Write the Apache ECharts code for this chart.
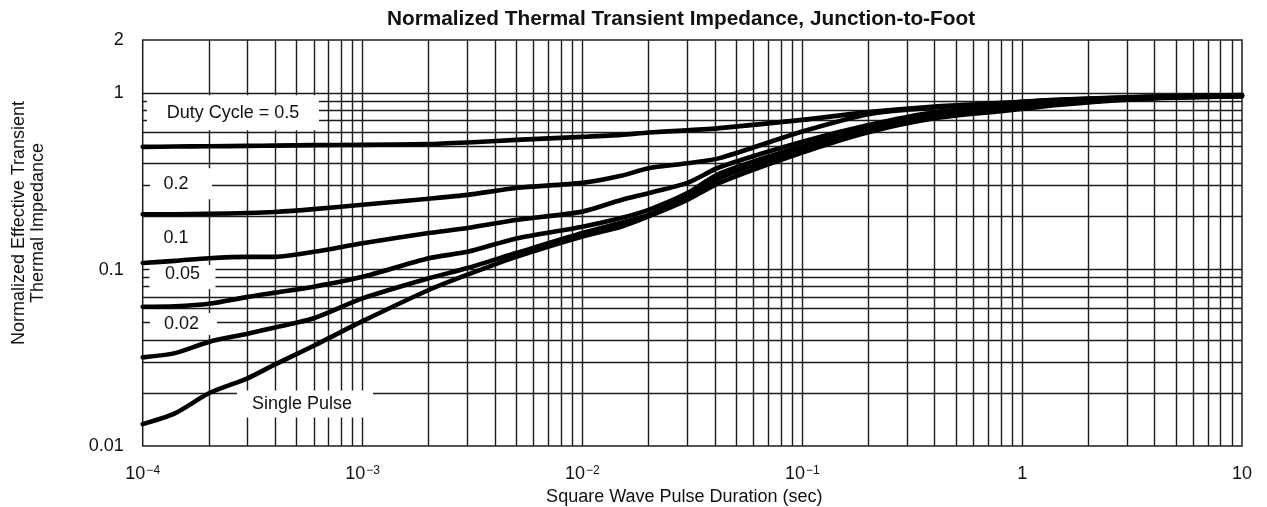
<!DOCTYPE html>
<html>
<head>
<meta charset="utf-8">
<script src="https://cdn.jsdelivr.net/npm/echarts@6/dist/echarts.min.js"></script>
<style>
html,body{margin:0;padding:0;background:#fff;}
#c{width:1267px;height:507px;}
</style>
</head>
<body>
<div id="c"></div>
<script>
// ---------------- data ----------------
const pulseDuration = [1e-4, 1.4e-4, 2e-4, 3e-4, 4e-4, 6e-4, 1e-3, 2e-3, 3e-3, 5e-3, 1e-2, 1.5e-2, 2e-2, 3e-2, 4.2e-2, 0.1, 0.2, 0.4, 0.8, 1.5, 3.7, 10];
const duty05 = [0.496, 0.498, 0.500, 0.502, 0.504, 0.507, 0.509, 0.514, 0.525, 0.543, 0.565, 0.580, 0.598, 0.615, 0.633, 0.705, 0.780, 0.840, 0.880, 0.920, 0.955, 0.975];
const duty02 = [0.206, 0.206, 0.207, 0.209, 0.212, 0.220, 0.233, 0.252, 0.265, 0.290, 0.310, 0.340, 0.375, 0.400, 0.428, 0.606, 0.760, 0.830, 0.875, 0.915, 0.950, 0.972];
const duty01 = [0.109, 0.112, 0.116, 0.118, 0.118, 0.126, 0.141, 0.161, 0.172, 0.191, 0.213, 0.248, 0.271, 0.310, 0.380, 0.530, 0.660, 0.780, 0.840, 0.900, 0.945, 0.970];
const duty005 = [0.0616, 0.062, 0.064, 0.070, 0.074, 0.080, 0.091, 0.116, 0.126, 0.150, 0.175, 0.196, 0.218, 0.271, 0.350, 0.500, 0.630, 0.760, 0.820, 0.880, 0.940, 0.965];
const duty002 = [0.0318, 0.0336, 0.0389, 0.0433, 0.047, 0.053, 0.0686, 0.0892, 0.102, 0.124, 0.161, 0.184, 0.204, 0.259, 0.330, 0.480, 0.610, 0.740, 0.800, 0.870, 0.935, 0.960];
const singlePulse = [0.0133, 0.0153, 0.0199, 0.0242, 0.029, 0.037, 0.051, 0.0766, 0.0935, 0.118, 0.154, 0.175, 0.200, 0.248, 0.310, 0.460, 0.600, 0.720, 0.790, 0.860, 0.930, 0.960];

const seriesNames = ['Duty Cycle = 0.5', '0.2', '0.1', '0.05', '0.02', 'Single Pulse'];
const seriesValues = [duty05, duty02, duty01, duty005, duty002, singlePulse];

// curve labels and their anchor points in data space
const labelTexts = ['Duty Cycle = 0.5', '0.2', '0.1', '0.05', '0.02', 'Single Pulse'];
const labelAnchorX = [2.574e-4, 1.494e-4, 1.417e-4, 1.517e-4, 1.533e-4, 5.47e-4];
const labelAnchorY = [0.773, 0.306, 0.151, 0.0908, 0.0491, 0.01729];

const titleText = 'Normalized Thermal Transient Impedance, Junction-to-Foot';
const xAxisTitle = 'Square Wave Pulse Duration (sec)';
const yAxisTitle = 'Normalized Effective Transient\nThermal Impedance';

const xRange = [1e-4, 10];
const yRange = [0.01, 2];

// ---------------- styling / layout ----------------
const FONT = '"Liberation Sans", Arial, Helvetica, sans-serif';
const INK = '#111';
const GRID = '#1c1c1c';
const boxSizes = [[172, 35], [62, 31], [52, 26], [66, 24], [67, 22], [136, 27]];
const labelOffsets = [[0, 0], [-5, 0], [0, 0], [0, -3], [-2, 0], [-3, 0]];

// grid line values (1..9 x each decade, inside the plot)
const xGrid = [];
for (let e = -4; e <= 0; e++) for (let k = 1; k <= 9; k++) {
  const v = k * Math.pow(10, e);
  if (v > xRange[0] * 1.0001) xGrid.push(v);
}
const yGrid = [];
for (let e = -2; e <= -1; e++) for (let k = 1; k <= 9; k++) {
  const v = k * Math.pow(10, e);
  if (v > yRange[0] * 1.0001) yGrid.push(v);
}
yGrid.push(1);

const chart = echarts.init(document.getElementById('c'), null, {renderer: 'canvas'});

const curveSeries = seriesValues.map((vals, i) => ({
  name: seriesNames[i],
  type: 'line',
  z: 4,
  smooth: 0.25,
  showSymbol: false,
  silent: true,
  lineStyle: {color: '#000', width: 4.6, cap: 'round', join: 'round'},
  data: pulseDuration.map((x, j) => [x, vals[j]])
}));

const boxSeries = {
  type: 'scatter',
  z: 3,
  silent: true,
  symbol: 'rect',
  itemStyle: {color: '#fff', opacity: 1},
  label: {
    show: true, position: 'inside', color: INK, fontSize: 18, fontFamily: FONT,
    formatter: p => labelTexts[p.dataIndex]
  },
  data: labelTexts.map((t, i) => ({
    value: [labelAnchorX[i], labelAnchorY[i]],
    symbolSize: boxSizes[i],
    label: {offset: labelOffsets[i]}
  }))
};

const gridSeries = {
  type: 'lines',
  coordinateSystem: 'cartesian2d',
  z: 1,
  silent: true,
  polyline: false,
  lineStyle: {color: GRID, width: 1.4, opacity: 1, type: 'solid'},
  data: xGrid.map(v => ({coords: [[v, yRange[0]], [v, yRange[1]]]}))
    .concat(yGrid.map(v => ({coords: [[xRange[0], v], [xRange[1], v]]})))
};

const option = {
  animation: false,
  backgroundColor: '#fff',
  textStyle: {fontFamily: FONT},
  graphic: [{
    type: 'text', x: 681, y: 19, z: 10,
    style: {text: titleText, font: 'bold 20.8px ' + FONT, fill: INK, align: 'center', verticalAlign: 'middle'}
  }],
  grid: {
    left: 142.7, right: 25, top: 40, bottom: 61,
    outerBoundsMode: 'none', containLabel: false,
    show: true, borderColor: GRID, borderWidth: 1.5, backgroundColor: 'transparent'
  },
  xAxis: {
    type: 'log', logBase: 10, min: xRange[0], max: xRange[1],
    name: xAxisTitle, nameLocation: 'middle', nameGap: 42,
    nameTextStyle: {fontSize: 18, color: INK, fontFamily: FONT, padding: [0, 16, 0, 0]},
    axisLine: {show: false}, axisTick: {show: false}, splitLine: {show: false},
    axisLabel: {
      margin: 19, color: INK,
      formatter: v => {
        const e = Math.round(Math.log10(v));
        if (e < 0) return '{b|10}{s|\u2212' + (-e) + '}';
        if (e === 0) return '{b|1}';
        return '{b|10}';
      },
      rich: {
        b: {fontSize: 18, color: INK, fontFamily: FONT},
        s: {fontSize: 12, color: INK, fontFamily: FONT, verticalAlign: 'top', padding: [0, 0, 0, 1]}
      }
    }
  },
  yAxis: {
    type: 'log', logBase: 10, min: yRange[0], max: yRange[1],
    name: yAxisTitle, nameLocation: 'middle', nameRotate: 90, nameGap: 95,
    nameTextStyle: {fontSize: 18, lineHeight: 19, color: INK, fontFamily: FONT, padding: [0, 0, 0, 40]},
    axisLine: {show: false}, axisTick: {show: false}, splitLine: {show: false},
    axisLabel: {
      margin: 19, color: INK, fontSize: 18, fontFamily: FONT,
      formatter: v => String(+Number(v).toPrecision(3))
    }
  },
  series: [gridSeries, boxSeries].concat(curveSeries)
};

chart.setOption(option);
</script>
</body>
</html>
